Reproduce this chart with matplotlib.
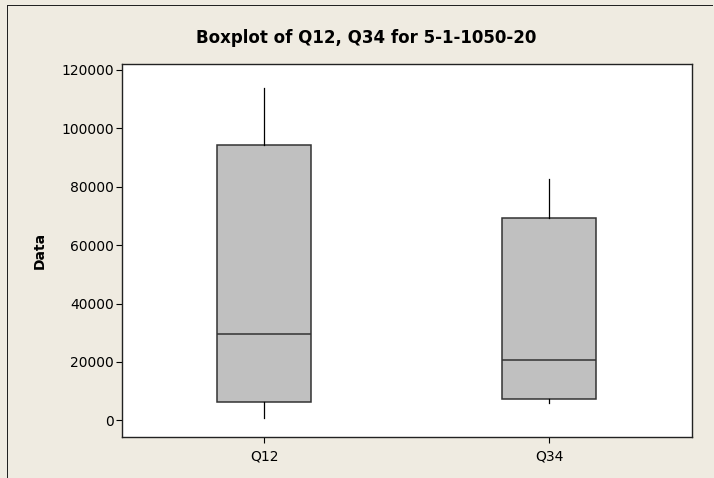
import matplotlib.pyplot as plt
from matplotlib.patches import Rectangle

# box summaries
names = ['Q12', 'Q34']
whislo = [700, 5800]
q1 = [6400, 7200]
med = [29400, 20800]
q3 = [94200, 69300]
whishi = [113900, 82800]

bg = '#EFEBE1'

fig = plt.figure(figsize=(7.14, 4.78), dpi=100)
fig.patch.set_facecolor(bg)
# outer frame, only left and top edges are visible in the crop (thin filled strips)
fig.add_artist(Rectangle((7 / 714, 0), 1 / 714, 1 - 5 / 478, transform=fig.transFigure,
                         facecolor='#222222', edgecolor='none'))
fig.add_artist(Rectangle((7 / 714, 1 - 6 / 478), 706 / 714, 1 / 478,
                         transform=fig.transFigure, facecolor='#222222', edgecolor='none'))

ax = fig.add_axes([122 / 714, 1 - 437 / 478, (691.5 - 122) / 714, (437 - 63.5) / 478])
ax.set_facecolor('white')

stats = []
for i in range(len(names)):
    stats.append({'label': names[i], 'whislo': whislo[i], 'q1': q1[i],
                  'med': med[i], 'q3': q3[i], 'whishi': whishi[i], 'fliers': []})

ax.bxp(stats, positions=[1, 2], widths=0.33, patch_artist=True, showcaps=False,
       boxprops=dict(facecolor='#C0C0C0', edgecolor='#333333', linewidth=1.1),
       medianprops=dict(color='#333333', linewidth=1.1),
       whiskerprops=dict(color='black', linewidth=0.9))

ax.set_xlim(0.5, 2.5)
ax.set_ylim(-5700, 122200)
ax.set_yticks([0, 20000, 40000, 60000, 80000, 100000, 120000])
ax.set_yticklabels(['0', '20000', '40000', '60000', '80000', '100000', '120000'])
ax.tick_params(axis='both', direction='out', length=4, width=0.8, labelsize=10,
               colors='black', pad=2)
ax.tick_params(axis='x', pad=5)
for s in ax.spines.values():
    s.set_linewidth(1.0)
    s.set_color('#222222')

fig.text(366 / 714, 1 - 38 / 478, 'Boxplot of Q12, Q34 for 5-1-1050-20',
         ha='center', va='center', fontsize=12, fontweight='bold')
fig.text(40 / 714, 1 - 250 / 478, 'Data', rotation=90, ha='center', va='center',
         fontsize=10, fontweight='bold')

fig.savefig('out.png', dpi=100, facecolor=bg, edgecolor='none')
